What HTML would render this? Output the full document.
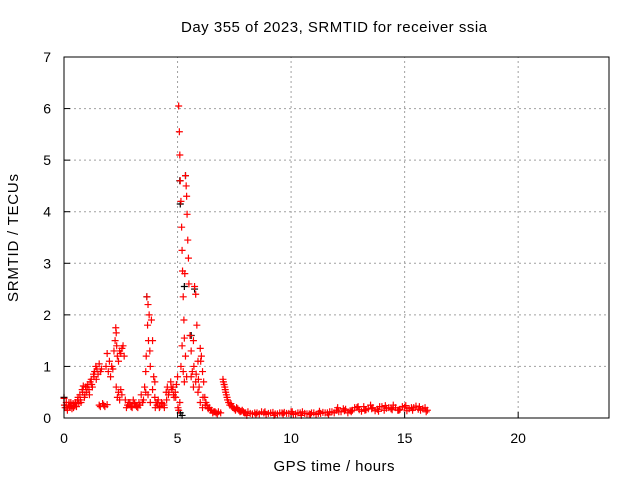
<!DOCTYPE html>
<html><head><meta charset="utf-8"><style>
html,body{margin:0;padding:0;background:#fff}
svg{display:block;font-family:"Liberation Sans",sans-serif}
</style></head><body>
<svg id="chart" width="640" height="480">
<text x="334" y="32" text-anchor="middle" font-size="15" textLength="306" lengthAdjust="spacing">Day 355 of 2023, SRMTID for receiver ssia</text>
<text x="334" y="471" text-anchor="middle" font-size="15" textLength="121" lengthAdjust="spacing">GPS time / hours</text>
<text transform="translate(18,238) rotate(-90)" text-anchor="middle" font-size="15" textLength="128" lengthAdjust="spacing">SRMTID / TECUs</text>
<g id="grid"></g>
<g id="ticks"></g>
<g id="black-series"></g>
<g id="red-series"></g>
<rect x="64" y="57" width="545" height="361" fill="none" stroke="#000" stroke-width="1"/>
</svg>
<script>
const xTicks = [0, 5, 10, 15, 20];
const yTicks = [0, 1, 2, 3, 4, 5, 6, 7];
const redHours = [0,0.05,0.1,0.15,0.2,0.25,0.3,0.35,0.4,0.45,0.5,0.55,0.6,0.65,0.7,0.75,0.8,0.85,0.9,0.95,1.0,1.05,1.1,1.15,1.2,1.25,1.3,1.35,1.4,1.45,1.5,1.55,1.6,1.65,
1.55,1.6,1.7,1.75,1.8,1.9,
1.85,1.9,1.95,2.0,2.05,2.1,2.15,2.2,2.25,2.28,2.3,2.32,2.35,2.4,2.45,2.5,2.55,2.6,2.65,
2.3,2.35,2.4,2.45,2.5,2.55,
2.7,2.8,2.9,3.0,3.1,3.2,3.3,3.4,3.5,
3.55,3.6,3.62,3.65,3.68,3.7,3.72,3.75,3.78,3.8,3.85,3.9,3.95,4.0,
3.6,3.7,3.8,3.9,4.0,
4.05,4.1,4.15,4.2,4.3,4.4,4.5,4.55,4.6,4.7,4.75,4.8,4.85,4.9,4.95,
5.0,5.02,5.05,5.08,5.1,5.12,5.15,5.18,5.2,5.22,5.25,5.28,5.3,5.32,5.35,5.38,5.4,5.42,5.45,5.48,5.5,
5.05,5.1,5.15,5.2,5.25,5.3,5.35,5.4,
5.55,5.6,5.65,5.7,5.75,5.8,5.85,5.9,5.95,6.0,6.05,6.1,6.15,6.2,6.25,6.3,
5.6,5.7,5.8,5.9,6.0,6.1,
6.4,6.5,6.6,6.7,6.8,6.9,
7.0,7.05,7.1,7.15,7.2,7.3,7.4,7.5,7.6,7.7,7.8,7.9,8.0,
8.2,8.4,8.6,8.8,9.0,9.2,9.4,9.6,9.8,10.0,10.2,10.4,10.6,10.8,11.0,11.2,11.4,11.6,11.8,
12.0,12.2,12.4,12.6,12.8,13.0,13.2,13.4,13.6,13.8,14.0,14.2,14.4,14.6,14.8,15.0,15.2,15.4,15.6,15.8,16.0];
const redValues = [0.38,0.2,0.3,0.15,0.25,0.22,0.3,0.18,0.28,0.25,0.3,0.22,0.35,0.28,0.45,0.3,0.55,0.62,0.4,0.6,0.5,0.65,0.55,0.7,0.75,0.6,0.85,0.9,1.0,0.95,0.85,1.05,0.9,0.95,
0.25,0.22,0.28,0.25,0.22,0.26,
1.0,1.25,0.9,1.1,0.8,1.0,0.95,1.3,1.5,1.75,1.65,1.4,1.2,1.1,1.3,1.25,1.35,1.4,1.2,
0.6,0.4,0.5,0.35,0.55,0.45,
0.35,0.25,0.3,0.2,0.28,0.22,0.3,0.45,0.35,
0.6,0.9,1.2,2.35,1.8,2.2,1.5,2.0,1.3,1.0,1.9,1.5,0.8,0.7,
0.5,0.45,0.3,0.55,0.4,
0.3,0.25,0.35,0.2,0.3,0.25,0.5,0.6,0.45,0.7,0.55,0.6,0.4,0.5,0.65,
0.8,0.2,6.05,5.55,5.1,4.6,4.2,3.7,3.25,2.85,2.35,1.9,1.55,2.8,4.7,4.5,4.3,3.95,3.45,3.1,2.6,
0.15,0.3,1.0,1.4,0.9,0.7,1.2,0.8,
1.6,1.3,0.9,1.5,2.55,2.4,1.8,1.1,0.6,1.35,1.2,0.9,0.7,0.4,0.3,0.25,
0.8,0.6,0.7,0.5,0.3,0.2,
0.2,0.15,0.12,0.1,0.12,0.1,
0.75,0.65,0.55,0.45,0.35,0.25,0.22,0.18,0.2,0.15,0.13,0.12,0.1,
0.09,0.1,0.08,0.1,0.09,0.11,0.08,0.1,0.09,0.12,0.08,0.1,0.09,0.08,0.1,0.09,0.11,0.1,0.12,
0.15,0.12,0.17,0.14,0.2,0.16,0.22,0.18,0.2,0.17,0.22,0.19,0.18,0.2,0.17,0.21,0.18,0.2,0.17,0.18,0.15];
const extraHours = [0.02,0.12,0.22,0.32,0.42,0.52,0.62,0.72,0.82,0.92,1.02,1.12,1.22,1.32,1.42,
2.75,2.85,2.95,3.05,3.15,3.25,3.35,3.45,
4.02,4.12,4.22,4.32,4.42,4.52,4.62,4.72,4.82,4.92,
5.72,5.82,5.92,6.02,6.12,6.22,6.35,6.45,6.55,6.65,6.75,
7.02,7.08,7.12,7.18,7.25,7.35,7.45,7.55,7.65,7.75,7.85,7.95,8.1,8.3,8.5,8.7,8.9,9.1,9.3,9.5,9.7,9.9,10.1,10.3,10.5,10.7,10.9,11.1,11.3,11.5,11.7,11.9,
12.1,12.3,12.5,12.7,12.9,13.1,13.3,13.5,13.7,13.9,14.1,14.3,14.5,14.7,14.9,15.1,15.3,15.5,15.7,15.9,
12.05,12.35,12.65,12.95,13.25,13.55,13.85,14.15,14.45,14.75,15.05,15.35,15.65,15.95,
8.05,8.45,8.85,9.25,9.65,10.05,10.45,10.85,11.25,11.65];
const extraValues = [0.25,0.2,0.3,0.25,0.2,0.3,0.4,0.35,0.5,0.45,0.6,0.45,0.65,0.8,0.75,
0.2,0.3,0.22,0.35,0.25,0.2,0.25,0.3,
0.2,0.3,0.22,0.28,0.2,0.35,0.5,0.6,0.45,0.4,
1.0,0.85,0.75,1.1,0.4,0.25,0.18,0.15,0.1,0.12,0.08,
0.7,0.6,0.5,0.4,0.3,0.28,0.2,0.15,0.18,0.12,0.15,0.1,0.12,0.08,0.1,0.12,0.07,0.1,0.08,0.1,0.11,0.09,0.07,0.1,0.12,0.08,0.1,0.07,0.09,0.1,0.12,0.1,
0.12,0.18,0.1,0.15,0.2,0.13,0.16,0.25,0.14,0.22,0.15,0.2,0.25,0.15,0.22,0.14,0.2,0.23,0.15,0.2,
0.2,0.14,0.12,0.22,0.15,0.18,0.13,0.24,0.16,0.15,0.24,0.15,0.22,0.12,
0.05,0.07,0.12,0.05,0.08,0.12,0.05,0.07,0.13,0.06];
const blackHours = [0.0, 3.65, 5.1, 5.12, 5.35, 5.3, 5.2, 5.6, 5.75, 5.12];
const blackValues = [0.4, 2.35, 4.6, 4.15, 4.7, 2.55, 0.05, 1.6, 2.5, 0.1];

const NS = "http://www.w3.org/2000/svg";
const X0 = 64, X1 = 609, Y0 = 418, Y1 = 57;
function xs(h){ return X0 + (h / 24) * (X1 - X0); }
function ys(v){ return Y0 - (v / 7) * (Y0 - Y1); }

const grid = document.getElementById('grid');
const ticks = document.getElementById('ticks');
xTicks.forEach(function(t){
  const x = xs(t);
  if (t > 0) {
    const g = document.createElementNS(NS, 'line');
    g.setAttribute('x1', x); g.setAttribute('x2', x); g.setAttribute('y1', Y0); g.setAttribute('y2', Y1);
    g.setAttribute('stroke', '#a0a0a0'); g.setAttribute('stroke-dasharray', '2,3');
    
    
    grid.appendChild(g);
  }
  const tk = document.createElementNS(NS, 'line');
  tk.setAttribute('x1', x); tk.setAttribute('x2', x); tk.setAttribute('y1', Y0); tk.setAttribute('y2', Y0 - 6);
  tk.setAttribute('stroke', '#000');
  
  
  ticks.appendChild(tk);
  const lb = document.createElementNS(NS, 'text');
  lb.setAttribute('x', x); lb.setAttribute('y', 443); lb.setAttribute('text-anchor', 'middle'); lb.setAttribute('font-size', '14');
  lb.textContent = t;
  
  
  ticks.appendChild(lb);
});
yTicks.forEach(function(t){
  const y = ys(t);
  if (t > 0 && t < 7) {
    const g = document.createElementNS(NS, 'line');
    g.setAttribute('x1', X0); g.setAttribute('x2', X1); g.setAttribute('y1', y); g.setAttribute('y2', y);
    g.setAttribute('stroke', '#a0a0a0'); g.setAttribute('stroke-dasharray', '2,3');
    
    
    grid.appendChild(g);
  }
  const tk = document.createElementNS(NS, 'line');
  tk.setAttribute('x1', X0); tk.setAttribute('x2', X0 + 6); tk.setAttribute('y1', y); tk.setAttribute('y2', y);
  tk.setAttribute('stroke', '#000');
  
  
  ticks.appendChild(tk);
  const lb = document.createElementNS(NS, 'text');
  lb.setAttribute('x', 51); lb.setAttribute('y', y + 5); lb.setAttribute('text-anchor', 'end'); lb.setAttribute('font-size', '14');
  lb.textContent = t;
  
  
  ticks.appendChild(lb);
});

function plotPlus(group, hrs, vals, color, name){
  let d = '';
  for (let i = 0; i < hrs.length; i++) {
    const x = xs(hrs[i]), y = ys(vals[i]);
    d += 'M' + (x - 3.5) + ' ' + y + 'H' + (x + 3.5) + 'M' + x + ' ' + (y - 3.5) + 'V' + (y + 3.5);
  }
  const p = document.createElementNS(NS, 'path');
  p.setAttribute('d', d);
  p.setAttribute('stroke', color);
  p.setAttribute('stroke-width', '1.2');
  p.setAttribute('fill', 'none');
  
  
  group.appendChild(p);
}
plotPlus(document.getElementById('black-series'), blackHours, blackValues, '#000', 'black-points');
plotPlus(document.getElementById('red-series'), redHours, redValues, '#ff0000', 'red-points');
plotPlus(document.getElementById('red-series'), extraHours, extraValues, '#ff0000', 'red-points-extra');
</script>
</body></html>
